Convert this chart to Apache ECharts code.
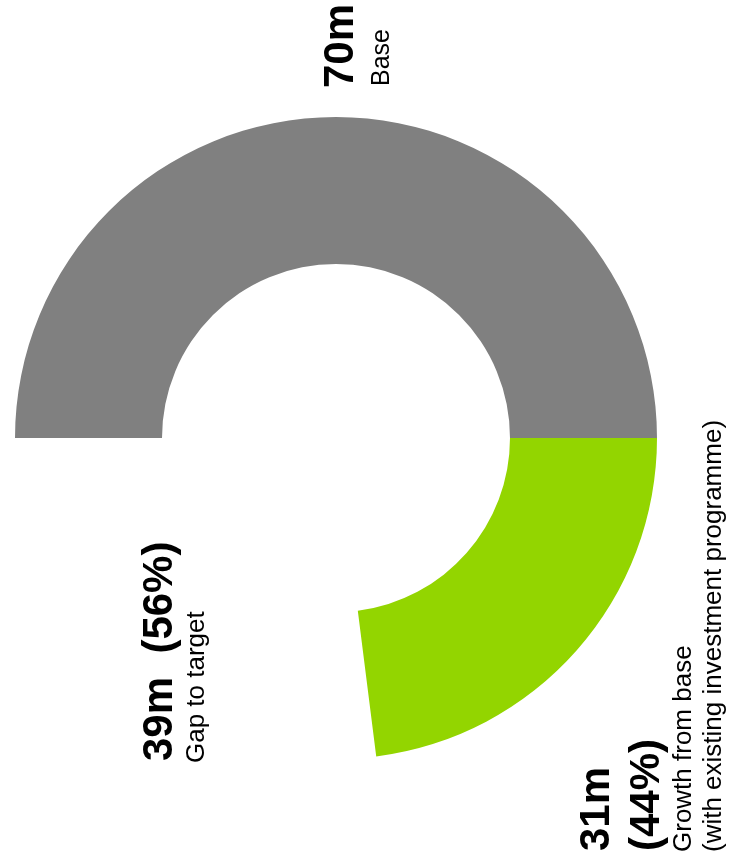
<!DOCTYPE html>
<html>
<head>
<meta charset="utf-8">
<script src="https://cdn.jsdelivr.net/npm/echarts@6/dist/echarts.min.js"></script>
<style>
html,body{margin:0;padding:0;background:#fff;}
#chart{width:730px;height:867px;}
</style>
</head>
<body>
<div id="chart"></div>
<script>
// Segments as drawn (angles)
const segmentNames = ['Base', 'Growth from base', 'Gap to target'];
const segmentValues = [70, 32.2, 37.8];
const segmentColors = ['#808080', '#93D500', 'rgba(0,0,0,0)'];

// Label texts
const valueLabels = ['70m', '31m\n(44%)', '39m  (56%)'];
const descLabels = ['Base', 'Growth from base\n(with existing investment programme)', 'Gap to target'];

const chart = echarts.init(document.getElementById('chart'), null, {renderer: 'canvas'});

const FONT = 'Liberation Sans, Arial, sans-serif';
function vtext(x, y, text, size, bold, lh) {
  return {
    type: 'text',
    x: x, y: y,
    rotation: Math.PI / 2,
    silent: true,
    style: {
      text: text,
      fontFamily: FONT,
      fontSize: size,
      fontWeight: bold ? 'bold' : 'normal',
      fill: '#000',
      align: 'left',
      verticalAlign: 'top',
      lineHeight: lh || size
    }
  };
}

const option = {
  animation: false,
  backgroundColor: '#fff',
  series: [{
    type: 'pie',
    center: [336, 438],
    radius: [174, 321],
    startAngle: 180,
    clockwise: true,
    silent: true,
    avoidLabelOverlap: false,
    label: {show: false},
    labelLine: {show: false},
    data: segmentNames.map((n, i) => ({
      name: n,
      value: segmentValues[i],
      itemStyle: {color: segmentColors[i]}
    }))
  }],
  graphic: [
    vtext(320, 88, valueLabels[0], 42, true),
    vtext(370, 86, descLabels[0], 25, false),
    vtext(139, 761, valueLabels[2], 42, true),
    vtext(184, 763, descLabels[2], 26, false),
    vtext(572, 851, valueLabels[1], 42, true, 50),
    vtext(669, 852, descLabels[1], 26, false, 30)
  ]
};
chart.setOption(option);
</script>
</body>
</html>
